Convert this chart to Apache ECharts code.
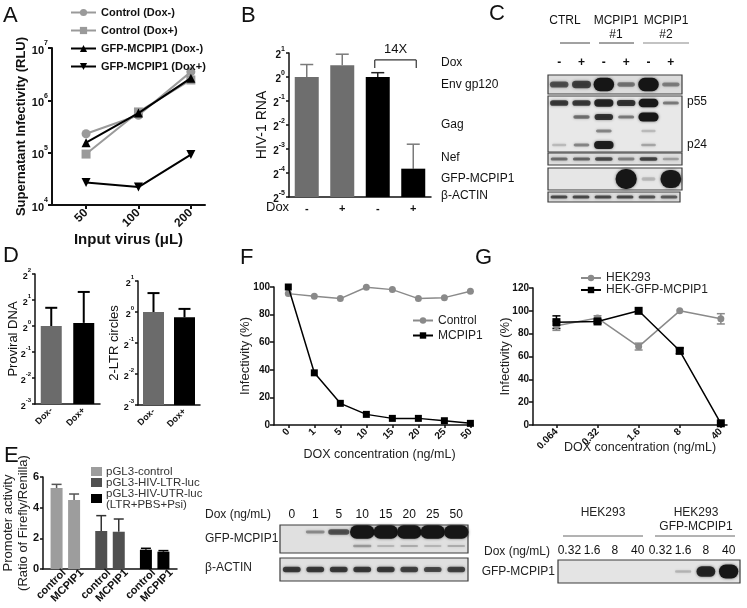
<!DOCTYPE html>
<html><head><meta charset="utf-8">
<script src="https://cdn.jsdelivr.net/npm/echarts@6/dist/echarts.min.js"></script>
<style>html,body{margin:0;padding:0;background:#fff}#c{width:747px;height:608px}</style>
</head><body><div id="c"></div>
<script>
// ================= DATA =================
// Panel A
const aCategories = ['50', '100', '200'];
const aControlDoxMinus = [2.3e5, 5.2e5, 3.5e6];
const aControlDoxPlus = [9.4e4, 6.0e5, 2.45e6];
const aGfpDoxMinus = [1.55e5, 5.7e5, 2.65e6];
const aGfpDoxPlus = [2.7e4, 2.2e4, 9.2e4];
const aSeriesNames = ['Control (Dox-)', 'Control (Dox+)', 'GFP-MCPIP1 (Dox-)', 'GFP-MCPIP1 (Dox+)'];
// Panel B (log2 of HIV-1 RNA)
const bCategories = ['-', '+', '-', '+'];
const bLog2 = [0, 0.49, 0, -3.82];
const bLog2Err = [0.52, 0.46, 0.18, 1.02];
const bFoldLabel = '14X';
// Panel C (western blot band intensities, lanes: CTRL -/+, MCPIP1#1 -/+, MCPIP1#2 -/+)
const cLanes = ['-', '+', '-', '+', '-', '+'];
const cEnv = [0.55, 0.65, 1, 0.35, 1, 0.3];
const cGagP55 = [0.7, 0.7, 0.85, 0.75, 0.95, 0.35];
const cGagMid = [0, 0.4, 0.75, 0.35, 1, 0];
const cGagLow = [0, 0, 0.3, 0, 0.06, 0];
const cGagP24 = [0.06, 0.3, 0.9, 0, 0.15, 0];
const cNef = [0.4, 0.45, 0.6, 0.3, 0.65, 0.15];
const cGfp = [0, 0, 0, 1, 0.06, 0.95];
const cActin = [0.6, 0.6, 0.6, 0.6, 0.55, 0.5];
// Panel D (log2)
const dCategories = ['Dox-', 'Dox+'];
const dProviralLog2 = [0, 0.12];
const dProviralErr = [0.7, 1.19];
const dLtrLog2 = [0, -0.17];
const dLtrErr = [0.61, 0.27];
// Panel E
const eGroups = ['pGL3-control', 'pGL3-HIV-LTR-luc', 'pGL3-HIV-UTR-luc\n(LTR+PBS+Psi)'];
const eBarNames = ['control', 'MCPIP1'];
const eControl = [5.28, 2.48, 1.26];
const eControlErr = [0.24, 1.0, 0.09];
const eMcpip1 = [4.5, 2.43, 1.13];
const eMcpip1Err = [0.39, 0.83, 0.07];
// Panel F
const fDox = ['0', '1', '5', '10', '15', '20', '25', '50'];
const fControl = [95.2, 93.3, 91.6, 99.8, 98.1, 91.6, 92.3, 96.9];
const fMcpip1 = [100, 37.8, 15.7, 7.7, 4.8, 4.8, 3.1, 1.2];
const fBlotGfp = [0, 0.25, 0.55, 1, 1, 1, 1, 1];
const fBlotGfpLower = [0, 0, 0, 0.18, 0.06, 0.1, 0.06, 0.1];
const fBlotActin = [0.7, 0.7, 0.7, 0.7, 0.7, 0.65, 0.6, 0.65];
// Panel G
const gDox = ['0.064', '0.32', '1.6', '8', '40'];
const gHek293 = [86.9, 93.7, 68.7, 100, 93];
const gHek293Err = [4, 2, 3, 0, 4.5];
const gHekGfp = [90.1, 90.7, 100, 65, 1.5];
const gHekGfpErr = [5.5, 1.5, 0, 2.5, 0];
const gBlotLanes = ['0.32', '1.6', '8', '40', '0.32', '1.6', '8', '40'];
const gBlotGfp = [0, 0, 0, 0, 0, 0.07, 0.85, 1];

// ================= BUILD =================
const FONT = 'Liberation Sans';
const INK = '#111';
const grids = [], xAxis = [], yAxis = [], series = [], legends = [], graphic = [];
function grid(g) { grids.push(Object.assign({ containLabel: false }, g)); return grids.length - 1; }
function axes(gi, x, y) { x.gridIndex = gi; y.gridIndex = gi; xAxis.push(x); yAxis.push(y); return [xAxis.length - 1, yAxis.length - 1]; }
function txt(x, y, text, o) {
  o = o || {};
  graphic.push({ type: 'text', x: x, y: y, silent: true, z: 10, style: {
    text: text, fill: o.color || INK, fontSize: o.size || 12, fontWeight: o.weight || 'normal',
    fontFamily: FONT, align: o.align || 'left', verticalAlign: o.va || 'middle', lineHeight: o.lh } });
}
function seg(x1, y1, x2, y2, color, w) {
  graphic.push({ type: 'line', silent: true, shape: { x1: x1, y1: y1, x2: x2, y2: y2 }, style: { stroke: color || INK, lineWidth: w || 1 } });
}
function rect(x, y, w, h, color) {
  graphic.push({ type: 'rect', silent: true, shape: { x: x, y: y, width: w, height: h }, style: { fill: color } });
}
const axLine = (w) => ({ show: true, onZero: false, lineStyle: { color: INK, width: w || 1.5 } });
const supRich = (size) => ({
  b: { fontSize: size, fontWeight: 'bold', fontFamily: FONT, color: INK, lineHeight: size + 5, verticalAlign: 'bottom' },
  s: { fontSize: Math.round(size * 0.68), fontWeight: 'bold', fontFamily: FONT, color: INK, lineHeight: Math.round(size * 0.7), verticalAlign: 'top' }
});
// error bar renderer
function errRender(colors, capHalf, width, both, offsets) {
  return function (params, api) {
    const x = api.value(0), y = api.value(1), e = api.value(2);
    const dx = offsets ? offsets : 0;
    const c = Array.isArray(colors) ? colors[params.dataIndex % colors.length] : colors;
    const p0 = api.coord([x, y]), p1 = api.coord([x, y + e]), p2 = api.coord([x, y - e]);
    const st = { stroke: c, lineWidth: width };
    const ch = [];
    if (e > 0) {
      ch.push({ type: 'line', shape: { x1: p0[0] + dx, y1: p0[1], x2: p1[0] + dx, y2: p1[1] }, style: st });
      ch.push({ type: 'line', shape: { x1: p1[0] + dx - capHalf, y1: p1[1], x2: p1[0] + dx + capHalf, y2: p1[1] }, style: st });
      if (both) {
        ch.push({ type: 'line', shape: { x1: p0[0] + dx, y1: p0[1], x2: p2[0] + dx, y2: p2[1] }, style: st });
        ch.push({ type: 'line', shape: { x1: p2[0] + dx - capHalf, y1: p2[1], x2: p2[0] + dx + capHalf, y2: p2[1] }, style: st });
      }
    }
    return { type: 'group', children: ch };
  };
}
// blot builder: rows top-to-bottom, each an intensity array across lanes
function blot(box, lanes, rows, o) {
  const gi = grid({ left: box[0], top: box[1], width: box[2], height: box[3], show: true,
    backgroundColor: o.bg || '#e2e2e2', borderColor: '#3c3c3c', borderWidth: 1.2 });
  const rowNames = rows.map((r, k) => 'r' + k);
  const [xi, yi] = axes(gi, {
    type: 'category', data: lanes, position: 'top', boundaryGap: true,
    axisLine: { show: false }, axisTick: { show: false }, splitLine: { show: false },
    axisLabel: Object.assign({ show: !!o.labels, color: INK, fontFamily: FONT, interval: 0 }, o.labels || {})
  }, {
    type: 'category', data: rowNames, inverse: true, boundaryGap: true,
    axisLine: { show: false }, axisTick: { show: false }, axisLabel: { show: false }, splitLine: { show: false }
  });
  const data = [];
  rows.forEach((r, k) => r.forEach((v, i) => { if (v > 0) data.push([i, k, v]); }));
  series.push({
    type: 'custom', xAxisIndex: xi, yAxisIndex: yi, data: data, z: 3,
    renderItem: function (params, api) {
      const i = api.value(0), k = api.value(1), v = api.value(2);
      const c = api.coord([i, k]);
      const bw = api.size([1, 0])[0], bh = api.size([0, 1])[1];
      const w = bw * (o.wMin + (o.wMax - o.wMin) * v);
      const h = Math.max(2.2, bh * (o.hMin + (o.hMax - o.hMin) * v * v));
      return { type: 'rect', shape: { x: c[0] - w / 2, y: c[1] - h / 2, width: w, height: h, r: h / 2 },
        style: { fill: '#161616', opacity: Math.min(1, 0.12 + 0.9 * v), shadowBlur: 3, shadowColor: 'rgba(0,0,0,0.55)' } };
    }
  });
}

// ---------- Panel A ----------
(function () {
  const gi = grid({ left: 52, top: 48, width: 153, height: 157 });
  const [xi, yi] = axes(gi, {
    type: 'value', min: -0.65, max: 2.27, splitLine: { show: false }, axisLine: axLine(2),
    axisTick: { show: true, customValues: [0, 1, 2], length: 4, lineStyle: { width: 2, color: INK } },
    axisLabel: { customValues: [0, 1, 2], formatter: v => aCategories[v], rotate: 45, fontSize: 12, fontWeight: 'bold', color: INK, margin: 6 },
    name: 'Input virus (μL)', nameLocation: 'middle', nameGap: 24,
    nameTextStyle: { fontSize: 15, fontWeight: 'bold', color: INK, fontFamily: FONT }
  }, {
    type: 'log', logBase: 10, min: 1e4, max: 1e7, splitLine: { show: false }, axisLine: axLine(2),
    axisTick: { show: true, length: 4, lineStyle: { width: 2, color: INK } },
    axisLabel: { formatter: v => '{b|10}{s|' + Math.round(Math.log10(v)) + '}', rich: supRich(11), margin: 4 },
    name: 'Supernatant Infectivity (RLU)', nameLocation: 'middle', nameGap: 24, nameMoveOverlap: false,
    nameTextStyle: { fontSize: 13, fontWeight: 'bold', color: INK, fontFamily: FONT }
  });
  const defs = [
    [aControlDoxMinus, '#9a9a9a', 'circle', 0],
    [aControlDoxPlus, '#9a9a9a', 'rect', 0],
    [aGfpDoxMinus, '#000', 'triangle', 0],
    [aGfpDoxPlus, '#000', 'triangle', 180]
  ];
  defs.forEach((d, k) => series.push({
    type: 'line', name: aSeriesNames[k], xAxisIndex: xi, yAxisIndex: yi,
    data: d[0].map((v, i) => [i, v]), symbol: d[2], symbolRotate: d[3], symbolSize: 9,
    lineStyle: { color: d[1], width: 2 }, itemStyle: { color: d[1] }, z: 3 + k
  }));
  legends.push({ left: 65, top: 1, orient: 'vertical', itemWidth: 25, itemHeight: 9, itemGap: 5,
    data: aSeriesNames, textStyle: { fontSize: 11, fontWeight: 'bold', color: INK, fontFamily: FONT, lineHeight: 13 } });
})();

// ---------- Panel B ----------
(function () {
  const off = 5;
  const gi = grid({ left: 289, top: 53, width: 142, height: 144 });
  const [xi, yi] = axes(gi, {
    type: 'category', data: bCategories, axisLine: axLine(1.5), axisTick: { show: false },
    axisLabel: { fontSize: 11, fontWeight: 'bold', color: INK, margin: 6 }
  }, {
    type: 'value', min: 0, max: 6, interval: 1, splitLine: { show: false }, axisLine: axLine(1.5),
    axisTick: { show: true, length: 3, lineStyle: { color: INK, width: 1.5 } },
    axisLabel: { formatter: v => '{b|2}{s|' + (v - off) + '}', rich: supRich(10), margin: 4 },
    name: 'HIV-1 RNA', nameLocation: 'middle', nameGap: 20, nameMoveOverlap: false,
    nameTextStyle: { fontSize: 14, color: INK, fontFamily: FONT }
  });
  const cols = ['#6e6e6e', '#6e6e6e', '#000', '#000'];
  series.push({ type: 'bar', xAxisIndex: xi, yAxisIndex: yi, barWidth: 24,
    data: bLog2.map((v, i) => ({ value: v + off, itemStyle: { color: cols[i] } })), z: 2 });
  series.push({ type: 'custom', xAxisIndex: xi, yAxisIndex: yi, z: 1,
    data: bLog2.map((v, i) => [i, v + off, bLog2Err[i]]),
    renderItem: errRender(['#7a7a7a', '#7a7a7a', '#222', '#7a7a7a'], 6.5, 1.5, false) });
  // bracket for fold change
  series.push({ type: 'custom', xAxisIndex: xi, yAxisIndex: yi, z: 4, data: [[2, 3, 0.71 + off]],
    renderItem: function (params, api) {
      const a = api.coord([api.value(0), api.value(2)]), b = api.coord([api.value(1), api.value(2)]);
      const st = { stroke: '#333', lineWidth: 1.2 };
      return { type: 'group', children: [
        { type: 'line', shape: { x1: a[0] - 3, y1: a[1], x2: b[0] + 3, y2: b[1] }, style: st },
        { type: 'line', shape: { x1: a[0] - 3, y1: a[1], x2: a[0] - 3, y2: a[1] + 8 }, style: st },
        { type: 'line', shape: { x1: b[0] + 3, y1: b[1], x2: b[0] + 3, y2: b[1] + 8 }, style: st },
        { type: 'text', style: { text: bFoldLabel, x: (a[0] + b[0]) / 2, y: a[1] - 11, fontSize: 13, fontFamily: FONT, fill: INK, align: 'center', verticalAlign: 'middle' } }
      ] };
    } });
  txt(266, 207, 'Dox', { size: 13 });
})();

// ---------- Panel C ----------
(function () {
  txt(565, 21, 'CTRL', { size: 12, align: 'center' });
  txt(616, 21, 'MCPIP1', { size: 12, align: 'center' });
  txt(616, 35, '#1', { size: 12, align: 'center' });
  txt(666, 21, 'MCPIP1', { size: 12, align: 'center' });
  txt(666, 35, '#2', { size: 12, align: 'center' });
  seg(560, 43, 590, 43, '#444', 1);
  seg(599, 43, 634, 43, '#444', 1);
  seg(643, 43, 689, 43, '#888', 1.2);
  const lx = 441;
  txt(lx, 63, 'Dox', { size: 12 });
  txt(lx, 85, 'Env gp120', { size: 12 });
  txt(lx, 125, 'Gag', { size: 12 });
  txt(lx, 158, 'Nef', { size: 12 });
  txt(lx, 179, 'GFP-MCPIP1', { size: 12 });
  txt(lx, 196, 'β-ACTIN', { size: 12 });
  txt(687, 102, 'p55', { size: 12 });
  txt(687, 145, 'p24', { size: 12 });
  const W = 134, L = 548;
  blot([L, 75, W, 19], cLanes, [cEnv], { labels: { fontSize: 12, fontWeight: 'bold', margin: 6 }, wMin: 0.72, wMax: 0.92, hMin: 0.16, hMax: 0.7, bg: '#dcdcdc' });
  blot([L, 96, W, 56], cLanes, [cGagP55, cGagMid, cGagLow, cGagP24], { wMin: 0.62, wMax: 0.9, hMin: 0.17, hMax: 0.66, bg: '#e8e8e8' });
  blot([L, 153, W, 12], cLanes, [cNef], { wMin: 0.7, wMax: 0.85, hMin: 0.22, hMax: 0.42, bg: '#dedede' });
  blot([L, 168, W, 22], cLanes, [cGfp], { wMin: 0.6, wMax: 0.95, hMin: 0.15, hMax: 0.9, bg: '#e6e6e6' });
  blot([L, 192, 132, 10], cLanes, [cActin], { wMin: 0.72, wMax: 0.8, hMin: 0.3, hMax: 0.34, bg: '#dddddd' });
})();

// ---------- Panel D ----------
function dPanel(box, vals, errs, lo, hi, name, nameGap) {
  const gi = grid({ left: box[0], top: box[1], width: box[2], height: box[3] });
  const [xi, yi] = axes(gi, {
    type: 'category', data: dCategories, axisLine: axLine(1.5), axisTick: { show: false },
    axisLabel: { rotate: 45, fontSize: 9, fontWeight: 'bold', color: INK, margin: 5 }
  }, {
    type: 'value', min: 0, max: hi - lo, interval: 1, splitLine: { show: false }, axisLine: axLine(1.5),
    axisTick: { show: true, length: 3, lineStyle: { color: INK, width: 1.5 } },
    axisLabel: { formatter: v => '{b|2}{s|' + (v + lo) + '}', rich: supRich(9), margin: 4 },
    name: name, nameLocation: 'middle', nameGap: nameGap, nameMoveOverlap: false,
    nameTextStyle: { fontSize: 13, color: INK, fontFamily: FONT }
  });
  const cols = ['#6b6b6b', '#000'];
  series.push({ type: 'bar', xAxisIndex: xi, yAxisIndex: yi, barWidth: 21, z: 2,
    data: vals.map((v, i) => ({ value: v - lo, itemStyle: { color: cols[i] } })) });
  series.push({ type: 'custom', xAxisIndex: xi, yAxisIndex: yi, z: 1,
    data: vals.map((v, i) => [i, v - lo, errs[i]]), renderItem: errRender('#000', 6, 2, false) });
}
dPanel([35, 274, 65, 130], dProviralLog2, dProviralErr, -3, 2, 'Proviral DNA', 15);
dPanel([138, 281, 62, 124], dLtrLog2, dLtrErr, -3, 1, '2-LTR circles', 17);

// ---------- Panel E ----------
(function () {
  const gi = grid({ left: 37, top: 477, width: 140, height: 92 });
  const [xi, yi] = axes(gi, {
    type: 'category', data: eGroups, axisLine: axLine(1.5), axisTick: { show: false }, axisLabel: { show: false }
  }, {
    type: 'value', min: 0, max: 6, interval: 2, splitLine: { show: false }, axisLine: axLine(1.5),
    axisTick: { show: true, length: 3, lineStyle: { color: INK, width: 1.5 } },
    axisLabel: { fontSize: 11, fontWeight: 'bold', color: INK, margin: 4 },
    name: 'Promoter activity\n(Ratio of Firefly/Renilla)', nameLocation: 'middle', nameGap: 12, nameMoveOverlap: false,
    nameTextStyle: { fontSize: 13, color: '#222', fontFamily: FONT, lineHeight: 15 }
  });
  const cols = ['#9d9d9d', '#505050', '#000'];
  const errCols = ['#555', '#333', '#000'];
  [[eControl, eControlErr], [eMcpip1, eMcpip1Err]].forEach((d, s) => {
    series.push({ type: 'bar', xAxisIndex: xi, yAxisIndex: yi, barWidth: 12, barGap: '46%', z: 2,
      data: d[0].map((v, i) => ({ value: v, itemStyle: { color: cols[i] } })),
      label: { show: true, position: ['50%', '100%'], formatter: eBarNames[s], rotate: 45, align: 'right',
        verticalAlign: 'middle', offset: [4, 7], fontSize: 11, fontWeight: 'bold', color: INK, fontFamily: FONT } });
    series.push({ type: 'custom', xAxisIndex: xi, yAxisIndex: yi, z: 1,
      data: d[0].map((v, i) => [i, v, d[1][i]]), renderItem: errRender(errCols, 5, 1.5, false, s === 0 ? -8.75 : 8.75) });
  });
  // legend
  txt(4, 456, 'E', { size: 22 });
  rect(91, 467, 11, 9, cols[0]);
  rect(91, 478, 11, 9, cols[1]);
  rect(91, 494, 11, 9, cols[2]);
  txt(106, 471.5, eGroups[0], { size: 11.5, color: '#333' });
  txt(106, 482.5, eGroups[1], { size: 11.5, color: '#333' });
  txt(106, 493.5, eGroups[2].split('\n')[0], { size: 11.5, color: '#333' });
  txt(106, 505, eGroups[2].split('\n')[1], { size: 11.5, color: '#333' });
})();

// ---------- Panel F ----------
(function () {
  const gi = grid({ left: 274, top: 287, width: 199, height: 138 });
  const idx = fDox.map((d, i) => i);
  const [xi, yi] = axes(gi, {
    type: 'value', min: -0.55, max: 7.1, splitLine: { show: false }, axisLine: axLine(1.5),
    axisTick: { show: true, customValues: idx, length: 3, lineStyle: { color: INK, width: 1.5 } },
    axisLabel: { customValues: idx, formatter: v => fDox[v], rotate: 45, fontSize: 10, fontWeight: 'bold', color: INK, margin: 5 },
    name: 'DOX concentration (ng/mL)', nameLocation: 'middle', nameGap: 23, nameMoveOverlap: false,
    nameTextStyle: { fontSize: 12.5, color: '#222', fontFamily: FONT, padding: [0, 0, 0, 12] }
  }, {
    type: 'value', min: 0, max: 100, interval: 20, splitLine: { show: false }, axisLine: axLine(1.5),
    axisTick: { show: true, length: 4, lineStyle: { color: INK, width: 1.5 } },
    axisLabel: { fontSize: 10, fontWeight: 'bold', color: INK, margin: 4 },
    name: 'Infectivity (%)', nameLocation: 'middle', nameGap: 22, nameMoveOverlap: false,
    nameTextStyle: { fontSize: 13, color: '#222', fontFamily: FONT }
  });
  series.push({ type: 'line', name: 'Control', xAxisIndex: xi, yAxisIndex: yi, data: fControl.map((v, i) => [i, v]),
    symbol: 'circle', symbolSize: 7, lineStyle: { color: '#8a8a8a', width: 1.5 }, itemStyle: { color: '#8a8a8a' }, z: 3 });
  series.push({ type: 'line', name: 'MCPIP1', xAxisIndex: xi, yAxisIndex: yi, data: fMcpip1.map((v, i) => [i, v]),
    symbol: 'rect', symbolSize: 7, lineStyle: { color: '#000', width: 1.5 }, itemStyle: { color: '#000' }, z: 4 });
  legends.push({ left: 407, top: 309, orient: 'vertical', itemWidth: 20, itemHeight: 8, itemGap: 2,
    data: ['Control', 'MCPIP1'], textStyle: { fontSize: 12, color: '#222', fontFamily: FONT, lineHeight: 13 } });
  // blot under F
  txt(205, 515, 'Dox (ng/mL)', { size: 12, color: '#222' });
  txt(205, 539, 'GFP-MCPIP1', { size: 12, color: '#222' });
  txt(205, 568, 'β-ACTIN', { size: 12, color: '#222' });
  blot([280, 525, 188, 28], fDox, [fBlotGfp, fBlotGfpLower], { labels: { fontSize: 12, margin: 4 }, wMin: 0.72, wMax: 1.04, hMin: 0.15, hMax: 0.95, bg: '#e0e0e0' });
  blot([280, 558, 188, 23], fDox, [fBlotActin], { wMin: 0.7, wMax: 0.78, hMin: 0.22, hMax: 0.24, bg: '#e0e0e0' });
})();

// ---------- Panel G ----------
(function () {
  const gi = grid({ left: 533, top: 288, width: 194, height: 137 });
  const idx = gDox.map((d, i) => i);
  const [xi, yi] = axes(gi, {
    type: 'value', min: -0.57, max: 4.15, splitLine: { show: false }, axisLine: axLine(1.5),
    axisTick: { show: true, customValues: idx, length: 3, lineStyle: { color: INK, width: 1.5 } },
    axisLabel: { customValues: idx, formatter: v => gDox[v], rotate: 45, fontSize: 10, fontWeight: 'bold', color: INK, margin: 5 },
    name: 'DOX concentration (ng/mL)', nameLocation: 'middle', nameGap: 16, nameMoveOverlap: false,
    nameTextStyle: { fontSize: 12.5, color: '#222', fontFamily: FONT, padding: [0, 0, 0, 20] }
  }, {
    type: 'value', min: 0, max: 120, interval: 20, splitLine: { show: false }, axisLine: axLine(1.5),
    axisTick: { show: true, length: 4, lineStyle: { color: INK, width: 1.5 } },
    axisLabel: { fontSize: 10, fontWeight: 'bold', color: INK, margin: 4 },
    name: 'Infectivity (%)', nameLocation: 'middle', nameGap: 21, nameMoveOverlap: false,
    nameTextStyle: { fontSize: 13, color: '#222', fontFamily: FONT }
  });
  series.push({ type: 'custom', xAxisIndex: xi, yAxisIndex: yi, z: 2, data: gHek293.map((v, i) => [i, v, gHek293Err[i]]),
    renderItem: errRender('#8a8a8a', 4, 1.5, true) });
  series.push({ type: 'custom', xAxisIndex: xi, yAxisIndex: yi, z: 2, data: gHekGfp.map((v, i) => [i, v, gHekGfpErr[i]]),
    renderItem: errRender('#000', 4, 1.5, true) });
  series.push({ type: 'line', name: 'HEK293', xAxisIndex: xi, yAxisIndex: yi, data: gHek293.map((v, i) => [i, v]),
    symbol: 'circle', symbolSize: 7, lineStyle: { color: '#8a8a8a', width: 1.5 }, itemStyle: { color: '#8a8a8a' }, z: 3 });
  series.push({ type: 'line', name: 'HEK-GFP-MCPIP1', xAxisIndex: xi, yAxisIndex: yi, data: gHekGfp.map((v, i) => [i, v]),
    symbol: 'rect', symbolSize: 8, lineStyle: { color: '#000', width: 1.5 }, itemStyle: { color: '#000' }, z: 4 });
  legends.push({ left: 575, top: 267, orient: 'vertical', itemWidth: 20, itemHeight: 8, itemGap: 0,
    data: ['HEK293', 'HEK-GFP-MCPIP1'], textStyle: { fontSize: 12, color: '#222', fontFamily: FONT, lineHeight: 11 } });
  // blot under G
  txt(603, 513, 'HEK293', { size: 12, align: 'center', color: '#222' });
  txt(696, 513, 'HEK293', { size: 12, align: 'center', color: '#222' });
  txt(696, 527, 'GFP-MCPIP1', { size: 12, align: 'center', color: '#222' });
  seg(563, 536, 643, 536, '#666', 1);
  seg(655, 536, 735, 536, '#666', 1);
  txt(484, 552, 'Dox (ng/mL)', { size: 12, color: '#222' });
  txt(555, 572, 'GFP-MCPIP1', { size: 12, align: 'right', color: '#222' });
  blot([558, 560, 182, 23], gBlotLanes, [gBlotGfp], { labels: { fontSize: 12, margin: 3 }, wMin: 0.7, wMax: 0.85, hMin: 0.1, hMax: 0.6, bg: '#e4e4e4' });
})();

// panel letters
txt(3, 16, 'A', { size: 22 });
txt(241, 16, 'B', { size: 22 });
txt(489, 14, 'C', { size: 22 });
txt(3, 256, 'D', { size: 22 });
txt(240, 258, 'F', { size: 22 });
txt(475, 258, 'G', { size: 22 });

const chart = echarts.init(document.getElementById('c'), null, { renderer: 'canvas' });
chart.setOption({
  animation: false, backgroundColor: '#fff', textStyle: { fontFamily: FONT },
  grid: grids, xAxis: xAxis, yAxis: yAxis, series: series, legend: legends,
  graphic: { elements: graphic }
});
</script></body></html>
